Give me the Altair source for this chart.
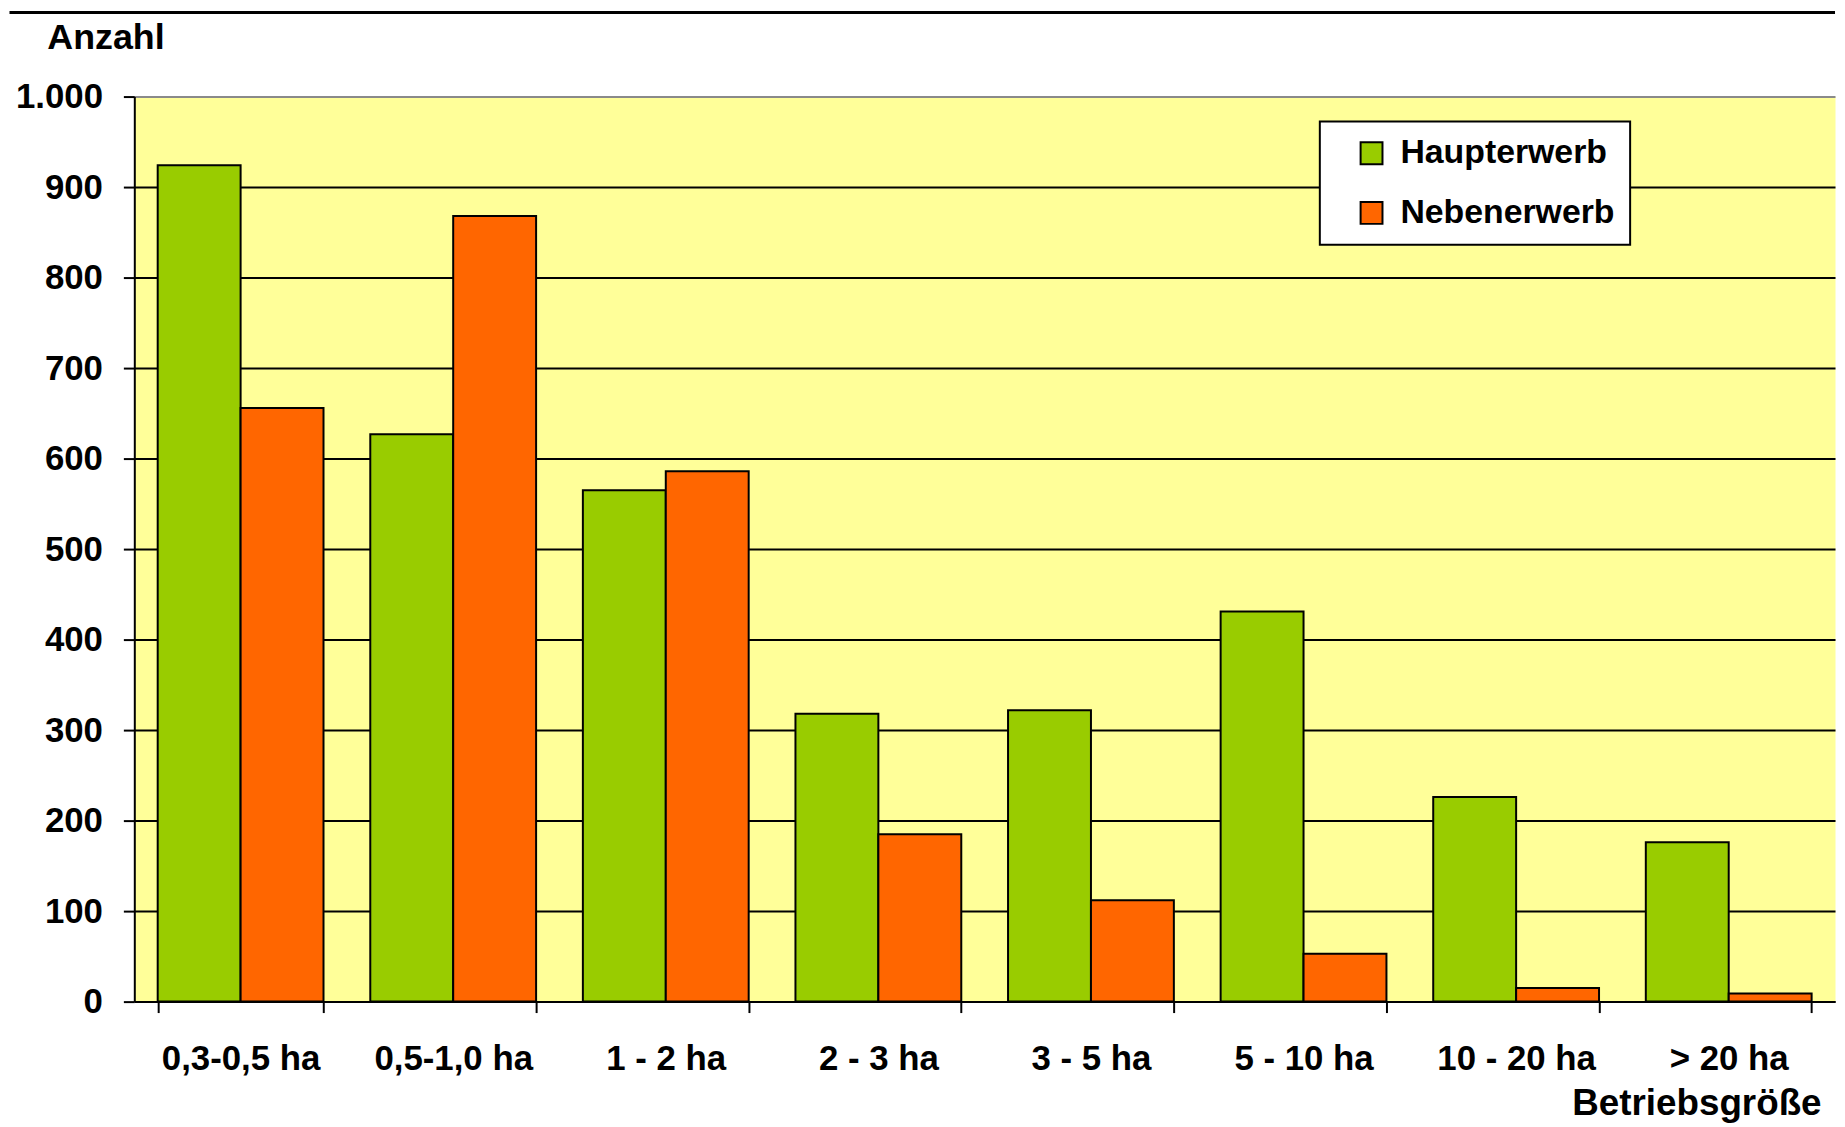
import altair as alt
import pandas as pd

categories = ["0,3-0,5 ha", "0,5-1,0 ha", "1 - 2 ha", "2 - 3 ha", "3 - 5 ha",
              "5 - 10 ha", "10 - 20 ha", "> 20 ha"]
haupterwerb = [924, 627, 565, 318, 322, 431, 226, 176]
nebenerwerb = [656, 868, 586, 185, 112, 53, 15, 9]
series = ["Haupterwerb", "Nebenerwerb"]
colors = ["#99CC00", "#FF6600"]
y_ticks = [0, 100, 200, 300, 400, 500, 600, 700, 800, 900, 1000]

rows = []
for c, h, n in zip(categories, haupterwerb, nebenerwerb):
    rows.append({"Betriebsgröße": c, "Art": series[0], "Anzahl": h})
    rows.append({"Betriebsgröße": c, "Art": series[1], "Anzahl": n})
df = pd.DataFrame(rows)

W = 1710
H = 910
FONT = "Liberation Sans"

bars = alt.Chart(df).mark_bar(stroke="black", strokeWidth=2).encode(
    x=alt.X(
        "Betriebsgröße:N",
        sort=categories,
        scale=alt.Scale(paddingInner=0.22, paddingOuter=0.11),
        axis=alt.Axis(
            title="Betriebsgröße",
            labelAngle=0,
            tickBand="extent",
            tickSize=11,
            tickWidth=2,
            tickColor="black",
            domainColor="black",
            domainWidth=2,
            labelFontSize=35,
            labelFont=FONT,
            labelFontWeight="bold",
            labelColor="black",
            labelPadding=29,
            titleFont=FONT,
            titleFontSize=37,
            titleFontWeight="bold",
            titleColor="black",
            titleAlign="right",
            titleAnchor="end",
            titleX=1696,
            titleY=113,
            titleBaseline="alphabetic",
        ),
    ),
    xOffset=alt.XOffset("Art:N", sort=series,
                        scale=alt.Scale(paddingInner=0, paddingOuter=0)),
    y=alt.Y(
        "Anzahl:Q",
        scale=alt.Scale(domain=[0, 1000], nice=False),
        axis=alt.Axis(
            title="Anzahl",
            values=y_ticks,
            labelExpr="replace(datum.label, ',', '.')",
            grid=True,
            gridColor={"condition": {"test": "datum.value === 1000", "value": "#8a8a8a"},
                       "value": "black"},
            gridWidth=2,
            tickSize=11,
            tickWidth=2,
            tickColor="black",
            domainColor="black",
            domainWidth=2,
            labelFontSize=35,
            labelFont=FONT,
            labelFontWeight="bold",
            labelColor="black",
            labelPadding=21,
            titleFont=FONT,
            titleFontSize=36,
            titleFontWeight="bold",
            titleColor="black",
            titleAngle=0,
            titleAlign="left",
            titleX=-88,
            titleY=-48,
            titleBaseline="alphabetic",
        ),
    ),
    color=alt.Color(
        "Art:N",
        scale=alt.Scale(domain=series, range=colors),
        legend=alt.Legend(
            title=None,
            orient="none",
            legendX=1192,
            legendY=25,
            fillColor="white",
            strokeColor="black",
            padding=15,
            symbolOffset=20,
            symbolType="square",
            symbolSize=484,
            symbolStrokeColor="black",
            symbolStrokeWidth=2,
            symbolOpacity=1,
            labelFontSize=34,
            labelFont=FONT,
            labelFontWeight="bold",
            labelColor="black",
            labelOffset=12,
            labelLimit=0,
            rowPadding=26,
        ),
    ),
)

top_line = alt.Chart(pd.DataFrame({"a": [0]})).mark_rule(
    color="black", strokeWidth=3
).encode(
    x=alt.value(-125.5), x2=alt.value(W), y=alt.value(-84.5)
)

chart = alt.layer(bars, top_line).properties(
    width=W, height=H, padding=0
).configure_view(
    stroke="transparent", fill="#FFFF99"
).configure_legend(
    strokeWidth=2
)

chart.save("out.html", embed_options={"renderer": "svg", "actions": False})
